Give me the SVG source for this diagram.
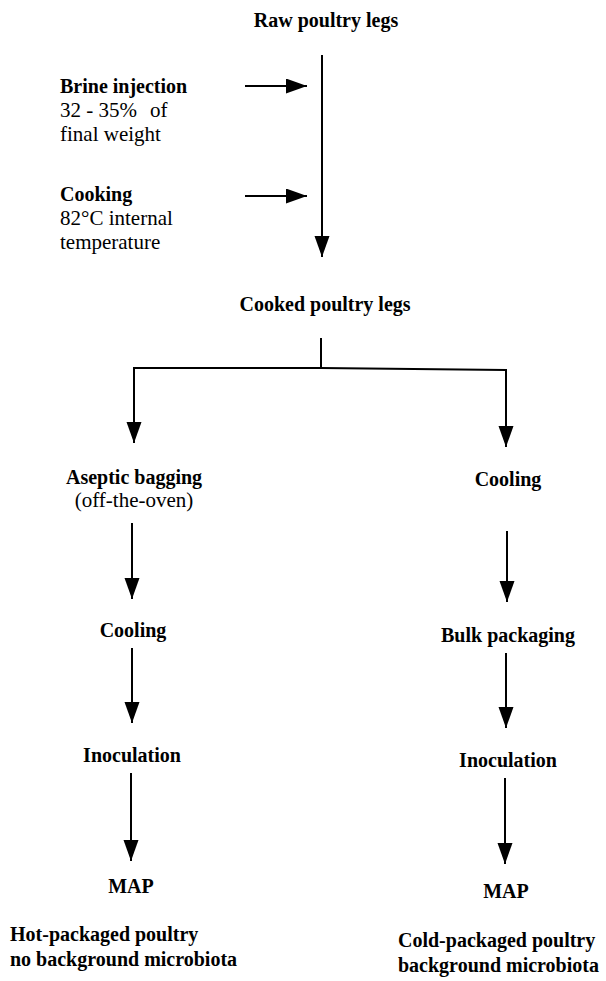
<svg xmlns="http://www.w3.org/2000/svg" width="606" height="981" viewBox="0 0 606 981">
<defs>
<style>
text{font-family:"Liberation Serif","Times New Roman",serif;fill:#000}
.b{font-weight:bold;font-size:20px}
.n{font-size:21px}
.c{text-anchor:middle}
.ln{stroke:#000;stroke-width:2;fill:none}
</style>
<marker id="ah" markerUnits="userSpaceOnUse" markerWidth="22" markerHeight="16" refX="21" refY="7.5" orient="auto">
<path d="M0,0 L21,7.5 L0,15 z" fill="#000"/>
</marker>
</defs>
<rect width="606" height="981" fill="#fff"/>
<g id="connectors">
<line class="ln" x1="322" y1="55" x2="322" y2="257" marker-end="url(#ah)"/>
<line class="ln" x1="245" y1="86" x2="307" y2="86" marker-end="url(#ah)"/>
<line class="ln" x1="245" y1="196" x2="307" y2="196" marker-end="url(#ah)"/>
<line class="ln" x1="321" y1="338" x2="321" y2="368"/>
<polyline class="ln" points="134,368 321,368 506,370"/>
<line class="ln" x1="134" y1="367" x2="134" y2="443" marker-end="url(#ah)"/>
<line class="ln" x1="506" y1="369" x2="506" y2="447" marker-end="url(#ah)"/>
<line class="ln" x1="132" y1="523" x2="132" y2="599" marker-end="url(#ah)"/>
<line class="ln" x1="507" y1="531" x2="507" y2="602" marker-end="url(#ah)"/>
<line class="ln" x1="132" y1="648" x2="132" y2="723" marker-end="url(#ah)"/>
<line class="ln" x1="506" y1="653" x2="506" y2="728" marker-end="url(#ah)"/>
<line class="ln" x1="131" y1="773" x2="131" y2="861" marker-end="url(#ah)"/>
<line class="ln" x1="505" y1="778" x2="505" y2="864" marker-end="url(#ah)"/>
</g>
<g id="raw"><text class="b c" x="326" y="27">Raw poultry legs</text></g>
<g id="brine"><text class="b" x="60" y="93">Brine injection</text><text class="n" y="117"><tspan x="60">32 - 35%</tspan><tspan x="150">of</tspan></text><text class="n" x="60" y="141">final weight</text></g>
<g id="cooking"><text class="b" x="60" y="201">Cooking</text><text class="n" x="60" y="225">82°C internal</text><text class="n" x="60" y="249">temperature</text></g>
<g id="cooked"><text class="b c" x="325" y="311">Cooked poultry legs</text></g>
<g id="aseptic"><text class="b c" x="134" y="484">Aseptic bagging</text><text class="n c" x="134" y="507">(off-the-oven)</text></g>
<g id="cooling-r"><text class="b c" x="508" y="486">Cooling</text></g>
<g id="cooling-l"><text class="b c" x="133" y="637">Cooling</text></g>
<g id="bulk"><text class="b c" x="508" y="642">Bulk packaging</text></g>
<g id="inoc-l"><text class="b c" x="132" y="762">Inoculation</text></g>
<g id="inoc-r"><text class="b c" x="508" y="767">Inoculation</text></g>
<g id="map-l"><text class="b c" x="131" y="893">MAP</text></g>
<g id="map-r"><text class="b c" x="506" y="898">MAP</text></g>
<g id="hot"><text class="b" x="10" y="941">Hot-packaged poultry</text><text class="b" x="10" y="966">no background microbiota</text></g>
<g id="cold"><text class="b" x="398" y="947">Cold-packaged poultry</text><text class="b" x="398" y="972">background microbiota</text></g>
</svg>
